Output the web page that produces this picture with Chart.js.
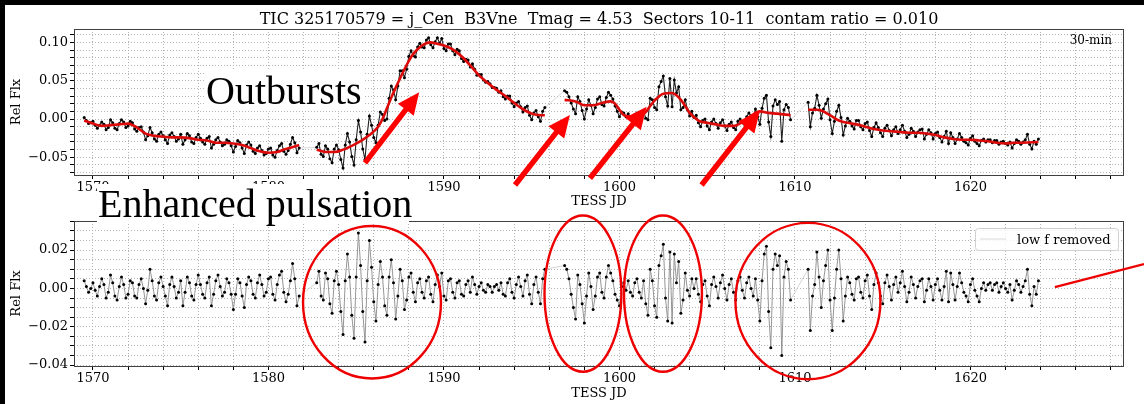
<!DOCTYPE html>
<html>
<head>
<meta charset="utf-8">
<script src="https://cdn.jsdelivr.net/npm/chart.js@4.4.0/dist/chart.umd.min.js"></script>
<style>
body{margin:0;background:#fff;width:1144px;height:404px;overflow:hidden;position:relative;font-family:'DejaVu Serif',serif}
canvas{position:absolute;left:0}
#lc{top:0}
#hp{top:205px}
.edge{position:absolute;background:#000}
#title{position:absolute;left:74px;width:1050px;top:9px;text-align:center;font-size:16px;line-height:20px;white-space:pre;color:#000}
.big{position:absolute;background:#fff;font-family:'Liberation Serif',serif;font-size:40px;white-space:pre;color:#000;box-sizing:border-box}
</style>
</head>
<body>
<canvas id="lc" width="1144" height="212"></canvas>
<canvas id="hp" width="1144" height="199"></canvas>
<div id="title">TIC 325170579 = j_Cen  B3Vne  Tmag = 4.53  Sectors 10-11  contam ratio = 0.010</div>
<div class="big" style="left:205px;top:70px;width:159px;height:41px;line-height:41px;padding-left:1px">Outbursts</div>
<div class="big" style="left:97px;top:184px;width:312px;height:39px;line-height:39px;padding-left:1px">Enhanced pulsation</div>
<div class="edge" style="left:0;top:0;width:1144px;height:5px"></div>
<div class="edge" style="left:0;top:0;width:5px;height:404px"></div>
<script>
'use strict'

// 30-min cadence, four stretches of data (sector 10 and 11, each split by a downlink gap)
const cadence = 0.125
const segStart = [1569.5, 1582.75, 1596.875, 1610.75]

// relative flux
const rawA = [
  0.002, -0.002, -0.006, -0.005, -0.003, -0.008, -0.012, -0.008,
  -0.004, -0.007, -0.014, -0.011, -0.001, -0.005, -0.012, -0.014,
  -0.006, -0.001, -0.004, -0.011, -0.009, -0.003, -0.005, -0.013,
  -0.016, -0.011, -0.010, -0.017, -0.027, -0.022, -0.011, -0.018,
  -0.026, -0.029, -0.020, -0.017, -0.022, -0.027, -0.032, -0.021,
  -0.018, -0.023, -0.029, -0.026, -0.020, -0.033, -0.027, -0.019,
  -0.022, -0.030, -0.032, -0.024, -0.020, -0.025, -0.030, -0.033,
  -0.025, -0.023, -0.038, -0.033, -0.027, -0.024, -0.030, -0.035,
  -0.033, -0.027, -0.029, -0.035, -0.043, -0.036, -0.028, -0.031,
  -0.038, -0.045, -0.034, -0.030, -0.034, -0.042, -0.045, -0.038,
  -0.035, -0.041, -0.047, -0.045, -0.039, -0.038, -0.047, -0.050,
  -0.041, -0.035, -0.032, -0.042, -0.046, -0.041, -0.033, -0.024,
  -0.031, -0.044, -0.038
]
const rawB = [
  -0.037, -0.032, -0.046, -0.049, -0.035, -0.039, -0.052, -0.057,
  -0.039, -0.034, -0.040, -0.053, -0.064, -0.034, -0.019, -0.030,
  -0.049, -0.060, -0.027, -0.002, -0.017, -0.039, -0.053, -0.020,
  0.004, -0.008, -0.024, -0.031, -0.008, 0.009, 0.006, -0.002,
  0.000, 0.027, 0.043, 0.038, 0.025, 0.043, 0.063, 0.063,
  0.054, 0.065, 0.082, 0.089, 0.083, 0.081, 0.094, 0.099,
  0.094, 0.093, 0.103, 0.106, 0.097, 0.093, 0.101, 0.106,
  0.099, 0.105, 0.092, 0.089, 0.098, 0.098, 0.089, 0.084,
  0.091, 0.089, 0.079, 0.075, 0.078, 0.077, 0.068, 0.072,
  0.065, 0.057, 0.058, 0.058, 0.051, 0.048, 0.049, 0.046,
  0.041, 0.041, 0.040, 0.035, 0.037, 0.029, 0.026, 0.030,
  0.030, 0.021, 0.016, 0.021, 0.023, 0.016, 0.009, 0.015,
  0.017, 0.005, -0.001, 0.008, 0.011, 0.003, -0.003, 0.010,
  0.015
]
const rawC = [
  0.037, 0.035, 0.029, 0.021, 0.013, 0.007, 0.029, 0.023,
  0.011, 0.000, 0.013, 0.025, 0.018, 0.007, 0.015, 0.026,
  0.029, 0.019, 0.017, 0.028, 0.035, 0.031, 0.026, 0.017,
  0.010, 0.003, 0.009, 0.008, 0.003, 0.007, 0.001, -0.001,
  0.006, 0.008, 0.002, 0.000, 0.010, 0.001, -0.001, 0.027,
  0.025, 0.015, 0.012, 0.042, 0.049, 0.056, 0.029, 0.017,
  0.053, 0.016, 0.051, 0.034, 0.042, 0.012, 0.015, 0.025,
  0.012, 0.004, 0.010, 0.002, 0.005, -0.005, -0.010, -0.002,
  0.000, -0.009, -0.014, -0.004, 0.000, -0.006, -0.012, -0.005,
  -0.001, -0.009, -0.015, -0.007, -0.004, -0.011, -0.014, -0.003,
  0.000, -0.005, -0.007, 0.003, 0.008, 0.004, 0.002, 0.013,
  0.003, -0.007, 0.014, 0.027, 0.031, -0.004, -0.023, 0.017,
  0.025, 0.019, 0.023, -0.029, 0.012, 0.019, 0.015, -0.001
]
const rawD = [
  0.022, -0.010, 0.008, 0.014, 0.031, 0.018, 0.001, 0.013,
  0.020, 0.026, -0.001, -0.019, -0.003, 0.010, 0.018, 0.002,
  -0.021, -0.009, 0.001, -0.003, -0.009, -0.013, -0.002, -0.002,
  -0.010, -0.014, -0.006, -0.004, -0.015, -0.023, -0.011, -0.005,
  -0.011, -0.018, -0.023, -0.012, -0.008, -0.015, -0.022, -0.014,
  -0.010, -0.019, -0.014, -0.008, -0.016, -0.024, -0.020, -0.012,
  -0.016, -0.023, -0.017, -0.014, -0.013, -0.026, -0.020, -0.014,
  -0.018, -0.026, -0.019, -0.017, -0.024, -0.030, -0.023, -0.016,
  -0.032, -0.018, -0.024, -0.032, -0.026, -0.019, -0.024, -0.029,
  -0.031, -0.034, -0.025, -0.022, -0.029, -0.032, -0.035, -0.028,
  -0.026, -0.030, -0.027, -0.027, -0.031, -0.028, -0.028, -0.033,
  -0.030, -0.029, -0.032, -0.034, -0.030, -0.038, -0.032, -0.027,
  -0.029, -0.033, -0.030, -0.027, -0.020, -0.033, -0.039, -0.029,
  -0.033, -0.026
]

// same points with the slow variation taken out
const resA = [
  0.004, 0.001, -0.002, 0.000, 0.003, -0.001, -0.004, 0.001,
  0.005, 0.002, -0.005, -0.002, 0.007, 0.003, -0.004, -0.006,
  0.001, 0.006, 0.002, -0.005, -0.003, 0.004, 0.003, -0.004,
  -0.005, 0.002, 0.005, 0.000, -0.008, -0.001, 0.010, 0.004,
  -0.004, -0.006, 0.003, 0.006, 0.001, -0.004, -0.009, 0.002,
  0.006, 0.001, -0.005, -0.002, 0.004, -0.009, -0.002, 0.006,
  0.003, -0.004, -0.006, 0.002, 0.007, 0.002, -0.003, -0.005,
  0.003, 0.006, -0.009, -0.003, 0.004, 0.007, 0.001, -0.004,
  -0.002, 0.005, 0.003, -0.003, -0.011, -0.003, 0.005, 0.003,
  -0.004, -0.010, 0.002, 0.006, 0.004, -0.003, -0.005, 0.003,
  0.007, 0.002, -0.004, -0.002, 0.005, 0.006, -0.003, -0.006,
  0.002, 0.007, 0.009, -0.002, -0.007, -0.003, 0.004, 0.013,
  0.005, -0.009, -0.004
]
const resB = [
  0.003, 0.009, -0.004, -0.006, 0.008, 0.005, -0.008, -0.013,
  0.004, 0.009, 0.002, -0.012, -0.024, 0.004, 0.018, 0.006,
  -0.014, -0.026, 0.006, 0.029, 0.012, -0.012, -0.028, 0.004,
  0.025, 0.011, -0.007, -0.017, 0.002, 0.014, 0.006, -0.009,
  -0.014, 0.006, 0.015, 0.003, -0.016, -0.004, 0.010, 0.004,
  -0.011, -0.006, 0.006, 0.008, -0.002, -0.007, 0.003, 0.005,
  -0.002, -0.005, 0.004, 0.006, -0.003, -0.007, 0.002, 0.007,
  0.001, 0.008, -0.004, -0.006, 0.004, 0.005, -0.002, -0.005,
  0.003, 0.004, -0.003, -0.004, 0.002, 0.004, -0.002, 0.006,
  0.002, -0.003, 0.001, 0.003, -0.001, -0.002, 0.002, 0.001,
  -0.002, 0.001, 0.002, -0.001, 0.003, -0.003, -0.004, 0.003,
  0.005, -0.002, -0.005, 0.002, 0.006, 0.001, -0.004, 0.004,
  0.007, -0.003, -0.008, 0.002, 0.006, -0.002, -0.008, 0.005,
  0.010
]
const resC = [
  0.012, 0.010, 0.005, -0.003, -0.010, -0.016, 0.007, 0.002,
  -0.008, -0.018, -0.004, 0.008, 0.001, -0.011, -0.004, 0.006,
  0.008, -0.002, -0.005, 0.006, 0.012, 0.008, 0.004, -0.003,
  -0.006, -0.009, 0.001, 0.003, -0.001, 0.004, -0.002, -0.004,
  0.003, 0.005, -0.002, -0.005, 0.004, -0.008, -0.014, 0.010,
  0.004, -0.009, -0.015, 0.012, 0.017, 0.023, -0.005, -0.017,
  0.019, -0.018, 0.018, 0.003, 0.014, -0.013, -0.006, 0.008,
  -0.001, -0.004, 0.005, 0.000, 0.005, -0.003, -0.007, 0.002,
  0.004, -0.004, -0.009, 0.002, 0.006, 0.001, -0.005, 0.003,
  0.007, 0.000, -0.006, 0.002, 0.005, -0.002, -0.006, 0.004,
  0.006, -0.001, -0.005, 0.003, 0.006, 0.000, -0.004, 0.005,
  -0.006, -0.017, 0.004, 0.018, 0.022, -0.012, -0.031, 0.010,
  0.018, 0.012, 0.017, -0.035, 0.006, 0.014, 0.010, -0.006
]
const resD = [
  0.010, -0.022, -0.004, 0.002, 0.019, 0.006, -0.010, 0.004,
  0.012, 0.020, -0.006, -0.022, -0.005, 0.010, 0.020, 0.005,
  -0.017, -0.004, 0.006, 0.003, -0.003, -0.006, 0.005, 0.006,
  -0.002, -0.005, 0.004, 0.007, -0.004, -0.011, 0.002, 0.008,
  0.003, -0.004, -0.008, 0.003, 0.007, 0.001, -0.006, 0.002,
  0.006, -0.002, 0.003, 0.009, 0.001, -0.007, -0.002, 0.006,
  0.002, -0.005, 0.001, 0.004, 0.005, -0.007, -0.001, 0.005,
  0.001, -0.006, 0.002, 0.005, -0.001, -0.006, 0.001, 0.009,
  -0.007, 0.008, 0.002, -0.006, 0.001, 0.008, 0.003, -0.002,
  -0.004, -0.007, 0.002, 0.005, -0.001, -0.004, -0.007, 0.000,
  0.003, -0.001, 0.002, 0.003, -0.001, 0.002, 0.003, -0.002,
  0.001, 0.003, 0.000, -0.002, 0.002, -0.006, -0.001, 0.004,
  0.002, -0.002, 0.001, 0.004, 0.010, -0.003, -0.009, 0.001,
  -0.003, 0.004
]

// smoothed trend (null = break between stretches)
const trendJd = [
  1569.5, 1570.0, 1570.5, 1571.0, 1571.5, 1572.0, 1572.5, 1573.0, 1573.5, 1574.0,
  1574.5, 1575.0, 1575.5, 1576.0, 1576.5, 1577.0, 1577.5, 1578.0, 1578.5, 1579.0,
  1579.5, 1580.0, 1580.5, 1581.0, 1581.5, 1581.75, 1582.2,
  1582.75, 1583.25, 1583.75, 1584.25, 1584.75, 1585.25, 1585.75, 1586.25, 1586.5, 1586.75,
  1587.0, 1587.25, 1587.5, 1587.75, 1588.0, 1588.25, 1588.5, 1588.75, 1589.0, 1589.25,
  1589.5, 1590.0, 1590.5, 1591.0, 1591.5, 1592.0, 1592.5, 1593.0, 1593.5, 1594.0,
  1594.5, 1595.0, 1595.5, 1595.75, 1596.3,
  1596.875, 1597.5, 1598.0, 1598.5, 1599.0, 1599.5, 1599.75, 1600.0, 1600.25, 1600.75,
  1601.25, 1601.5, 1601.75, 1602.0, 1602.5, 1603.0, 1603.25, 1603.5, 1603.75, 1604.0,
  1604.5, 1605.0, 1605.5, 1606.0, 1606.5, 1607.0, 1607.5, 1608.0, 1608.5, 1609.0,
  1609.75, 1610.2,
  1610.75, 1611.25, 1611.5, 1612.0, 1612.5, 1613.0, 1613.5, 1614.0, 1614.5, 1615.0,
  1615.5, 1616.0, 1616.5, 1617.0, 1617.5, 1618.0, 1618.5, 1619.0, 1619.5, 1620.0,
  1620.5, 1621.0, 1621.5, 1622.0, 1622.5, 1623.0, 1623.875
]
const trendFlux = [
  -0.002, -0.006, -0.009, -0.008, -0.007, -0.006, -0.011, -0.019, -0.022, -0.023,
  -0.024, -0.024, -0.025, -0.027, -0.028, -0.031, -0.031, -0.032, -0.034, -0.038,
  -0.042, -0.044, -0.043, -0.039, -0.036, -0.034, null,
  -0.040, -0.043, -0.043, -0.040, -0.035, -0.029, -0.021, -0.010, 0.000, 0.014,
  0.028, 0.041, 0.053, 0.065, 0.076, 0.085, 0.091, 0.096, 0.099, 0.100,
  0.099, 0.096, 0.091, 0.082, 0.070, 0.057, 0.047, 0.038, 0.030, 0.021,
  0.013, 0.007, 0.005, 0.005, null,
  0.025, 0.023, 0.018, 0.018, 0.021, 0.023, 0.020, 0.012, 0.005, 0.003,
  0.005, 0.009, 0.017, 0.024, 0.033, 0.034, 0.031, 0.025, 0.017, 0.008,
  -0.002, -0.005, -0.007, -0.009, -0.009, -0.004, 0.004, 0.010, 0.008, 0.007,
  0.005, null,
  0.012, 0.012, 0.011, 0.005, -0.002, -0.005, -0.007, -0.010, -0.013, -0.015,
  -0.016, -0.017, -0.018, -0.018, -0.019, -0.021, -0.024, -0.026, -0.027, -0.027,
  -0.028, -0.029, -0.031, -0.032, -0.031, -0.031, -0.030
]

const rawSegs = [rawA, rawB, rawC, rawD]
const resSegs = [resA, resB, resC, resD]

let rawPts = []
let resPts = []
segStart.forEach((t0, s) => {
  rawSegs[s].forEach((v, i) => {
    rawPts.push({x: t0 + i * cadence, y: v})
    resPts.push({x: t0 + i * cadence, y: resSegs[s][i]})
  })
})
const trendPts = trendJd.map((t, i) => ({x: t, y: trendFlux[i]}))

// annotations, in (JD, flux) of the panel they sit on
const arrows = [
  [1585.5, -0.0574, 1588.59, 0.0349],
  [1594.05, -0.0862, 1597.18, 0.0052],
  [1598.32, -0.0774, 1601.55, 0.016],
  [1604.68, -0.0862, 1608.01, 0.0117]
]
const rings = [
  [1585.9, -0.0072, 3.93, 0.0398],
  [1597.92, -0.0027, 2.19, 0.0408],
  [1602.48, -0.0027, 2.22, 0.0408],
  [1610.74, -0.0066, 4.13, 0.0408]
]
const pointer = [1624.81, 0.0007, 1629.89, 0.0127]

Chart.defaults.font.family = "'DejaVu Serif', serif"
Chart.defaults.font.size = 13
Chart.defaults.color = '#000'

const fmt = v => (v < 0 ? '\u2212' : '') + Math.abs(v).toFixed(2)

// joins across a data gap are drawn faint
const gapColor = (near, far) => c => (c.p1.parsed.x - c.p0.parsed.x > 0.5 ? far : near)

const xAxis = (h) => ({
  type: 'linear', min: 1568.92, max: 1628.75,
  afterFit: s => { s.height = h },
  grid: {color: '#b4b4b4', lineWidth: 1, tickColor: '#000', tickLength: 4},
  border: {display: false, dash: [1, 2]},
  ticks: {stepSize: 2, autoSkip: false, maxRotation: 0, padding: 1, includeBounds: false,
    callback: v => (Math.round(v) % 10 === 0 ? String(v) : '')},
  title: {display: true, text: 'TESS JD', padding: {top: 0, bottom: 3}}
})

const yAxis = (min, max, step, every) => ({
  type: 'linear', min: min, max: max,
  afterFit: s => { s.width = 74 },
  grid: {color: '#b4b4b4', lineWidth: 1, tickColor: '#000', tickLength: 4},
  border: {display: false, dash: [1, 2]},
  ticks: {stepSize: step, autoSkip: false, padding: 2, includeBounds: false,
    callback: v => (Math.round(v / step) % every === 0 ? fmt(v) : '')},
  title: {display: true, text: 'Rel Flx', padding: {top: 9, bottom: 0}}
})

const frame = {
  id: 'frame',
  afterDraw(chart) {
    const {ctx, chartArea: a} = chart
    ctx.save()
    ctx.strokeStyle = '#404040'
    ctx.lineWidth = 1
    ctx.strokeRect(Math.round(a.left) + 0.5, Math.round(a.top) + 0.5, Math.round(a.width) - 1, Math.round(a.height))
    ctx.restore()
  }
}

const drawArrow = (ctx, x0, y0, x1, y1) => {
  const len = Math.hypot(x1 - x0, y1 - y0)
  const ux = (x1 - x0) / len, uy = (y1 - y0) / len
  const nx = -uy, ny = ux
  const w = 2.7, hw = 10, hl = 22
  const bx = x1 - ux * hl, by = y1 - uy * hl
  ctx.beginPath()
  ctx.moveTo(x0 + nx * w, y0 + ny * w)
  ctx.lineTo(bx + nx * w, by + ny * w)
  ctx.lineTo(bx + nx * hw, by + ny * hw)
  ctx.lineTo(x1, y1)
  ctx.lineTo(bx - nx * hw, by - ny * hw)
  ctx.lineTo(bx - nx * w, by - ny * w)
  ctx.lineTo(x0 - nx * w, y0 - ny * w)
  ctx.closePath()
  ctx.fill()
}

const outbursts = {
  id: 'outbursts',
  afterDraw(chart) {
    const {ctx, chartArea: a} = chart
    const x = chart.scales.x, y = chart.scales.y
    ctx.save()
    ctx.fillStyle = '#ff0000'
    arrows.forEach(r => drawArrow(ctx, x.getPixelForValue(r[0]), y.getPixelForValue(r[1]),
      x.getPixelForValue(r[2]), y.getPixelForValue(r[3])))
    ctx.fillStyle = '#000'
    ctx.font = "12px 'DejaVu Serif'"
    ctx.textAlign = 'right'
    ctx.fillText('30-min', a.right - 12, a.top + 15)
    ctx.restore()
  }
}

const pulsation = {
  id: 'pulsation',
  afterDraw(chart) {
    const {ctx, chartArea: a} = chart
    const x = chart.scales.x, y = chart.scales.y
    ctx.save()
    ctx.strokeStyle = '#ee0000'
    ctx.lineWidth = 2.4
    rings.forEach(r => {
      const cx = x.getPixelForValue(r[0]), cy = y.getPixelForValue(r[1])
      const rx = x.getPixelForValue(r[0] + r[2]) - cx
      const ry = cy - y.getPixelForValue(r[1] + r[3])
      ctx.beginPath()
      ctx.ellipse(cx, cy, rx, ry, 0, 0, Math.PI * 2)
      ctx.stroke()
    })
    ctx.beginPath()
    ctx.moveTo(x.getPixelForValue(pointer[0]), y.getPixelForValue(pointer[1]))
    ctx.lineTo(x.getPixelForValue(pointer[2]), y.getPixelForValue(pointer[3]))
    ctx.stroke()

    // legend box
    const lx = a.right - 149, ly = a.top + 7
    ctx.fillStyle = 'rgba(255,255,255,0.8)'
    ctx.strokeStyle = '#d0d0d0'
    ctx.lineWidth = 1
    ctx.beginPath()
    ctx.roundRect(lx + 0.5, ly + 0.5, 143, 22, 3)
    ctx.fill()
    ctx.stroke()
    ctx.strokeStyle = '#d8d8d8'
    ctx.beginPath()
    ctx.moveTo(lx + 5, ly + 11)
    ctx.lineTo(lx + 31, ly + 11)
    ctx.stroke()
    ctx.fillStyle = '#000'
    ctx.font = "13px 'DejaVu Serif'"
    ctx.fillText('low f removed', lx + 42, ly + 16)
    ctx.restore()
  }
}

const common = {
  responsive: false,
  animation: false,
  events: [],
  plugins: {legend: {display: false}, tooltip: {enabled: false}}
}

let lightCurve = new Chart(document.querySelector('#lc'), {
  type: 'scatter',
  data: {
    datasets: [{
      data: trendPts, showLine: true, borderColor: '#dd0a0a', borderWidth: 2.6,
      pointRadius: 0, cubicInterpolationMode: 'monotone'
    }, {
      data: rawPts, showLine: true, borderColor: '#222', borderWidth: 1.1,
      segment: {borderColor: gapColor('#222', '#cfcfcf'), borderWidth: c => (c.p1.parsed.x - c.p0.parsed.x > 0.5 ? 0.8 : 1.1)},
      pointRadius: 1.5, pointBackgroundColor: '#000', pointBorderWidth: 0
    }]
  },
  options: Object.assign({}, common, {
    layout: {padding: {left: 0, right: 20, top: 29, bottom: 0}},
    scales: {x: xAxis(37), y: yAxis(-0.0731, 0.1175, 0.01, 5)}
  }),
  plugins: [frame, outbursts]
})

let highPass = new Chart(document.querySelector('#hp'), {
  type: 'scatter',
  data: {
    datasets: [{
      data: resPts, showLine: true, borderColor: '#8a8a8a', borderWidth: 0.9,
      segment: {borderColor: gapColor('#8a8a8a', '#d0d0d0')},
      pointRadius: 1.5, pointBackgroundColor: '#000', pointBorderWidth: 0
    }]
  },
  options: Object.assign({}, common, {
    layout: {padding: {left: 0, right: 20, top: 16, bottom: 0}},
    scales: {x: xAxis(38), y: yAxis(-0.0405, 0.0352, 0.005, 4)}
  }),
  plugins: [frame, pulsation]
})
</script>
</body>
</html>
